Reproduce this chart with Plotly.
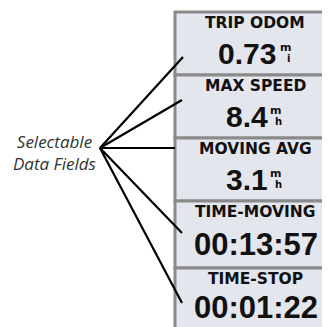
import plotly.graph_objects as go

# Field contents shown on the device screen
field_labels = ["TRIP ODOM", "MAX SPEED", "MOVING AVG", "TIME-MOVING", "TIME-STOP"]
field_values = ["0.73", "8.4", "3.1", "00:13:57", "00:01:22"]
field_units = [("m", "i"), ("m", "h"), ("m", "h"), None, None]
callout_text = "Selectable<br>Data Fields"

# Screen geometry (pixels); the page body adds an 8px margin, so the axes are offset
W, H = 330, 327
OFF = 8
box_left, box_right = 175, 332
box_edges = [12, 75, 138, 201, 268, 332]
value_dy = [41, 41, 41, 43, 39]
hub = (100, 148)
pointer_ends = [(183, 57), (182, 100), (175, 148), (182, 233), (182, 303)]

panel_fill = "#e4e6ed"
frame_col = "#8a8a8a"
ink = "#111111"

fig = go.Figure()

shapes = []
for i in range(len(field_labels)):
    shapes.append(dict(type="rect", x0=box_left, x1=box_right,
                       y0=box_edges[i], y1=box_edges[i + 1],
                       fillcolor=panel_fill, line=dict(color=frame_col, width=3),
                       layer="below"))

# pointer lines from the callout to each field
for (ex, ey) in pointer_ends:
    fig.add_trace(go.Scatter(x=[hub[0], ex], y=[hub[1], ey], mode="lines",
                             line=dict(color="#000000", width=2.2),
                             hoverinfo="skip", showlegend=False))

annotations = []
cx = 255
for i, (lab, val) in enumerate(zip(field_labels, field_values)):
    top = box_edges[i]
    annotations.append(dict(x=cx, y=top + 11, text=lab, showarrow=False,
                            xanchor="center", yanchor="middle",
                            font=dict(family="DejaVu Sans", size=15.5, color=ink, weight="bold")))
    timer = ":" in val
    big = 31 if timer else 30
    vx = cx + 1 if field_units[i] is None else cx - 8
    annotations.append(dict(x=vx, y=top + value_dy[i],
                            text=val, showarrow=False,
                            xanchor="center", yanchor="middle",
                            font=dict(family="Liberation Sans", size=big, color=ink, weight="bold")))
    if field_units[i] is not None:
        u1, u2 = field_units[i]
        ux = vx + len(val) * 8 + (6 if len(val) > 3 else 4)
        annotations.append(dict(x=ux, y=top + 35, text=u1, showarrow=False,
                                xanchor="center", yanchor="middle",
                                font=dict(family="DejaVu Sans", size=11, color=ink, weight="bold")))
        annotations.append(dict(x=ux + 3, y=top + 46, text=u2, showarrow=False,
                                xanchor="center", yanchor="middle",
                                font=dict(family="DejaVu Sans", size=10, color=ink, weight="bold")))

annotations.append(dict(x=54, y=152, text=callout_text, showarrow=False,
                        xanchor="center", yanchor="middle", align="center",
                        font=dict(family="Open Sans", size=17, color="#333333", style="italic")))

fig.update_layout(
    width=W, height=H,
    margin=dict(l=0, r=0, t=0, b=0),
    paper_bgcolor="white", plot_bgcolor="white",
    xaxis=dict(range=[OFF, W + OFF], visible=False, fixedrange=True),
    yaxis=dict(range=[H + OFF, OFF], visible=False, fixedrange=True),
    shapes=shapes, annotations=annotations,
    showlegend=False,
)

fig.write_html("out.html")
